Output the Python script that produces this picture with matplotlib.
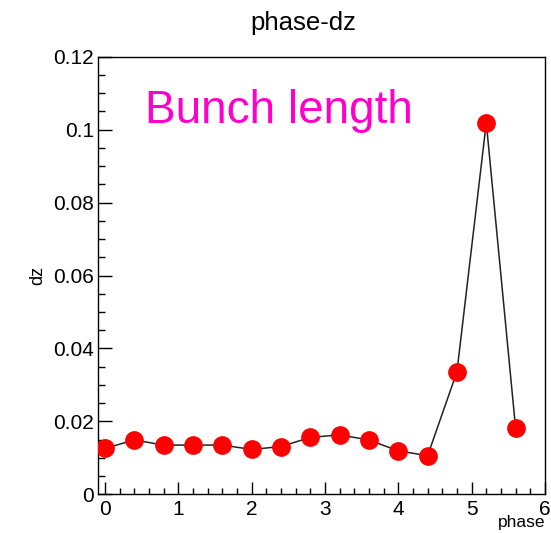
import matplotlib
matplotlib.use("Agg")
import matplotlib.pyplot as plt
from matplotlib.ticker import MultipleLocator

plt.rcParams['font.family'] = ['Liberation Sans', 'DejaVu Sans']

# phase points and bunch length values
phase = [0.0, 0.4, 0.8, 1.2, 1.6, 2.0, 2.4, 2.8, 3.2, 3.6, 4.0, 4.4, 4.8, 5.2, 5.6]
dz = [0.0126, 0.0149, 0.0135, 0.0135, 0.0135, 0.0123, 0.0131, 0.0156,
      0.0163, 0.0149, 0.0119, 0.0106, 0.0336, 0.1019, 0.0181]

fig = plt.figure(figsize=(5.51, 5.33), dpi=100)
ax = fig.add_axes([0.1773, 0.0726, 0.989 - 0.1773, 0.8936 - 0.0726])

ax.plot(phase, dz, color='#222222', lw=1.1, zorder=2)
ax.plot(phase, dz, 'o', color='red', markersize=13.5, markeredgewidth=0, zorder=3)

ax.set_xlim(-0.1, 6)
ax.set_ylim(0, 0.12)

ax.xaxis.set_major_locator(MultipleLocator(1))
ax.xaxis.set_minor_locator(MultipleLocator(0.2))
ax.yaxis.set_minor_locator(MultipleLocator(0.005))
ax.set_yticks([0, 0.02, 0.04, 0.06, 0.08, 0.1, 0.12])
ax.set_yticklabels(['0', '0.02', '0.04', '0.06', '0.08', '0.1', '0.12'])

ax.tick_params(axis='x', which='major', direction='in', length=8.6, width=1, labelsize=15, pad=4)
ax.tick_params(axis='x', which='minor', direction='in', length=4.5, width=1)
ax.tick_params(axis='y', which='major', direction='in', length=10, width=1, labelsize=15, pad=2.5)
ax.tick_params(axis='y', which='minor', direction='in', length=5, width=1)
ax.tick_params(top=False, right=False, which='both')

for sp in ax.spines.values():
    sp.set_linewidth(1.0)

fig.text(303 / 551, 1 - 23 / 533, 'phase-dz', ha='center', va='center', fontsize=18.5)
fig.text(545 / 551, 1 - 523 / 533, 'phase', ha='right', va='center', fontsize=12.5)
fig.text(38 / 551, 1 - 275 / 533, 'dz', ha='center', va='center', rotation=90, fontsize=13)
fig.text(145 / 551, 1 - 123.3 / 533, 'Bunch length', ha='left', va='baseline',
         fontsize=33, color='#ff00cc')

fig.savefig('out.png', dpi=100)
